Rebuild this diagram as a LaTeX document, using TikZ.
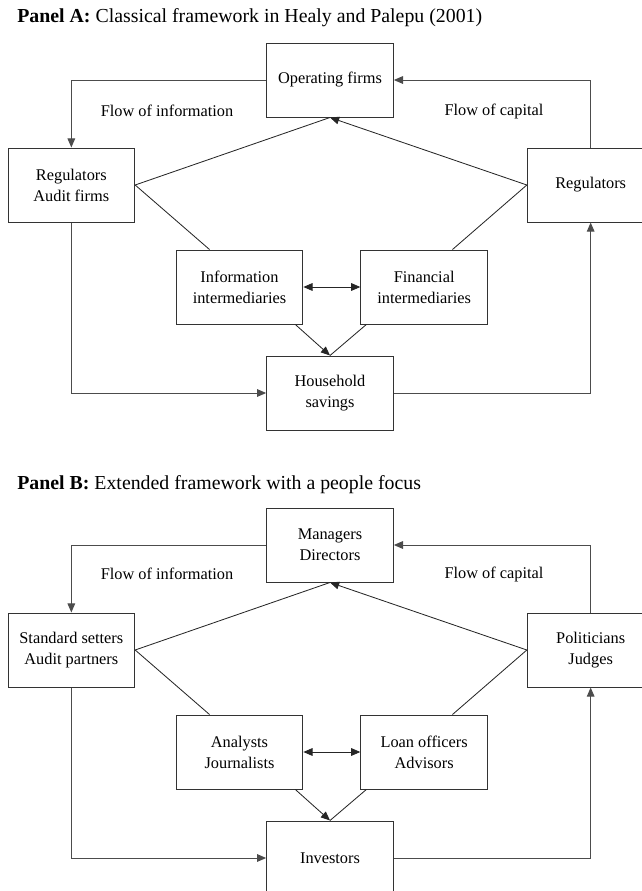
\documentclass[tikz,border=0pt]{standalone}
\usepackage{fontspec}
\setmainfont{Liberation Serif}
\usetikzlibrary{arrows.meta,positioning}

\begin{document}
\begin{tikzpicture}[
    x=0.6pt, y=-0.6pt,
    >={Triangle[length=5.5pt,width=4.6pt]},
    actor/.style={draw=black!80, line width=0.6pt, minimum width=76pt, minimum height=44.4pt, align=center, inner sep=2pt, font=\fontsize{9.8pt}{12.6pt}\selectfont},
    flow/.style={draw=black!70, line width=0.6pt},
    link/.style={draw=black!85, line width=0.5pt},
    paneltitle/.style={anchor=base west, inner sep=0pt, font=\fontsize{11.9pt}{14pt}\selectfont},
    flowlabel/.style={inner sep=0pt, font=\fontsize{9.8pt}{12pt}\selectfont}
]
\useasboundingbox (0,0) rectangle (642,891);

% Panel A
\node[paneltitle] (titleA) at (17,22) {\textbf{Panel A:} Classical framework in Healy and Palepu (2001)};
\node[actor] (OF) at (330,80) {Operating firms};
\node[actor] (RA) [below left=18pt and 78.6pt of OF] {Regulators\\Audit firms};
\node[actor] (RG) [below right=18pt and 79.8pt of OF] {Regulators};
\node[actor] (II) [below=79.2pt of OF, xshift=-54.3pt] {Information\\intermediaries};
\node[actor] (FI) [right=34.2pt of II] {Financial\\intermediaries};
\node[actor] (HS) [below=142.8pt of OF] {Household\\savings};
\node[flowlabel] (infoA) at (167,111) {Flow of information};
\node[flowlabel] (capA) at (494,111) {Flow of capital};

\draw[flow,->] (OF.west) -| (RA.north);
\draw[flow,->] (RG.north) |- (OF.east);
\draw[flow,->] (RA.south) |- (HS.west);
\draw[flow,->] (HS.east) -| (RG.south);
\draw[link] (RA.east) -- (OF.south);
\draw[link,->] (RG.west) -- (OF.south);
\draw[link] (RA.east) -- ([xshift=-18pt]II.north);
\draw[link] (RG.west) -- ([xshift=17pt]FI.north);
\draw[link,<->] (II) -- (FI);
\draw[link,->] ([xshift=-4.8pt]II.south east) -- (HS.north);
\draw[link] ([xshift=3.6pt]FI.south west) -- (HS.north);

% Panel B
\node[paneltitle] (titleB) at (17,489) {\textbf{Panel B:} Extended framework with a people focus};
\node[actor] (MD) [below=46.2pt of HS] {Managers\\Directors};
\node[actor] (SA) [below left=18pt and 78.6pt of MD] {Standard setters\\Audit partners};
\node[actor] (PJ) [below right=18pt and 79.8pt of MD] {Politicians\\Judges};
\node[actor] (AJ) [below=79.2pt of MD, xshift=-54.3pt] {Analysts\\Journalists};
\node[actor] (LA) [right=34.2pt of AJ] {Loan officers\\Advisors};
\node[actor] (INV) [below=142.8pt of MD] {Investors};
\node[flowlabel] (infoB) at (167,574) {Flow of information};
\node[flowlabel] (capB) at (494,574) {Flow of capital};

\draw[flow,->] (MD.west) -| (SA.north);
\draw[flow,->] (PJ.north) |- (MD.east);
\draw[flow,->] (SA.south) |- (INV.west);
\draw[flow,->] (INV.east) -| (PJ.south);
\draw[link] (SA.east) -- (MD.south);
\draw[link,->] (PJ.west) -- (MD.south);
\draw[link] (SA.east) -- ([xshift=-18pt]AJ.north);
\draw[link] (PJ.west) -- ([xshift=17pt]LA.north);
\draw[link,<->] (AJ) -- (LA);
\draw[link,->] ([xshift=-4.8pt]AJ.south east) -- (INV.north);
\draw[link] ([xshift=3.6pt]LA.south west) -- (INV.north);
\end{tikzpicture}
\end{document}
